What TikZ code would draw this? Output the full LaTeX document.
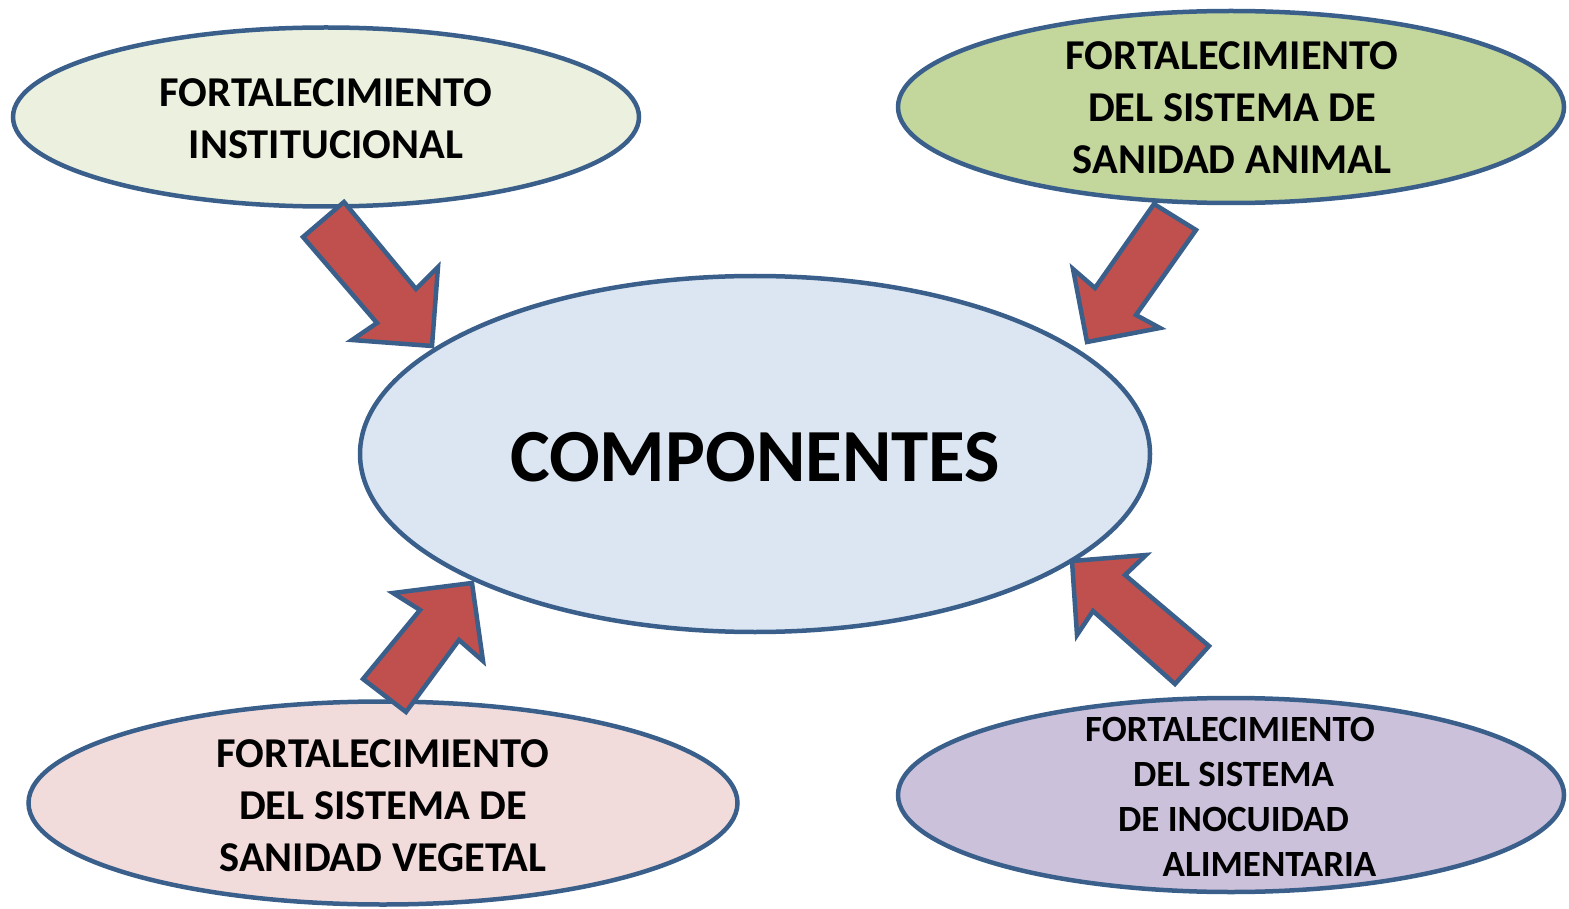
\documentclass[tikz,border=0pt]{standalone}
\usepackage{fontspec}
\setmainfont{Carlito}
\usetikzlibrary{shapes.geometric}
\definecolor{edgeblue}{HTML}{3A5F8B}
\definecolor{arrowred}{HTML}{C0504D}
\definecolor{fillA}{HTML}{EBF1DE}
\definecolor{fillB}{HTML}{C3D69B}
\definecolor{fillC}{HTML}{DCE6F2}
\definecolor{fillD}{HTML}{F2DCDB}
\definecolor{fillE}{HTML}{CCC1DA}
\tikzset{
  oval/.style={ellipse, draw=edgeblue, line width=4.5pt, inner sep=0pt},
  lbl/.style={font=\fontsize{42.5}{52}\selectfont\bfseries, align=center, inner sep=0pt},
  lblsmall/.style={font=\fontsize{37}{45}\selectfont\bfseries, align=center, inner sep=0pt},
  blockarrow/.style={fill=arrowred, draw=edgeblue, line width=4.5pt, line join=miter}
}
\begin{document}
\begin{tikzpicture}[x=1pt,y=-1pt]
\useasboundingbox (0,0) rectangle (1569,909);
% ellipses
\node[oval, fill=fillA, minimum width=626, minimum height=179] (inst) at (326,117) {};
\node[oval, fill=fillB, minimum width=666, minimum height=192] (animal) at (1231,107) {};
\node[oval, fill=fillC, minimum width=790, minimum height=356] (comp) at (755,454) {};
\node[oval, fill=fillD, minimum width=709, minimum height=203] (veg) at (383,803) {};
\node[oval, fill=fillE, minimum width=666, minimum height=194] (ino) at (1231,795) {};
% texts
\node[lbl] (tinst) at (326,119) {FORTALECIMIENTO\\INSTITUCIONAL};
\node[lbl] (tanimal) at (1232,108) {FORTALECIMIENTO\\DEL SISTEMA DE\\SANIDAD ANIMAL};
\node[font=\fontsize{75}{80}\selectfont\bfseries, inner sep=0pt] (tcomp) at (755,457) {COMPONENTES};
\node[lbl] (tveg) at (383,806) {FORTALECIMIENTO\\DEL SISTEMA DE\\SANIDAD VEGETAL};
\node[lblsmall] (tino) at (1230,797) {FORTALECIMIENTO\\\hspace*{7pt}DEL SISTEMA\\\hspace*{7pt}DE INOCUIDAD\\\hspace*{79pt}ALIMENTARIA};
% block arrows
\draw[blockarrow] (344,202) -- (416,289) -- (438,267) -- (432,346) -- (352,340) -- (377,323) -- (303,237) -- cycle;
\draw[blockarrow] (1154,204) -- (1095,288) -- (1073,269) -- (1087,342) -- (1160,328) -- (1136,315) -- (1196,230) -- cycle;
\draw[blockarrow] (406,712) -- (459,640) -- (483,661) -- (472,583) -- (393,593) -- (420,610) -- (363,679) -- cycle;
\draw[blockarrow] (1175,684) -- (1093,611) -- (1077,635) -- (1072,561) -- (1146,555) -- (1125,575) -- (1209,646) -- cycle;
\end{tikzpicture}
\end{document}
